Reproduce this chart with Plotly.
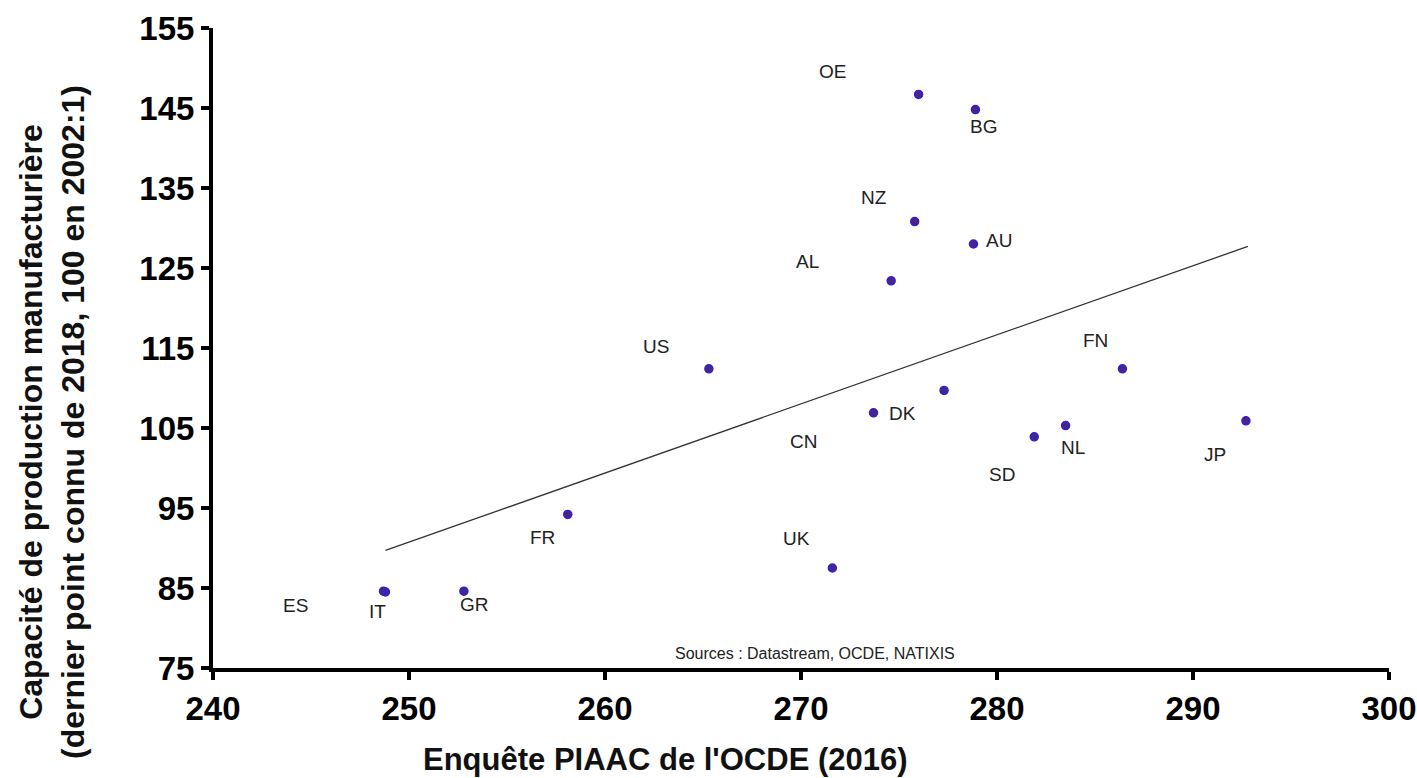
import plotly.graph_objects as go

# ---- data ----
countries = ["OE", "BG", "NZ", "AU", "AL", "US", "FN", "DK", "CN", "NL",
             "SD", "JP", "FR", "UK", "IT", "GR", "ES"]
piaac = [276.0, 278.9, 275.8, 278.8, 274.6, 265.3, 286.4, 277.3, 273.7, 283.5,
         281.9, 292.7, 258.1, 271.6, 248.8, 252.8, 248.7]
capacity = [146.7, 144.8, 130.8, 128.0, 123.4, 112.4, 112.4, 109.7, 106.9, 105.3,
            103.9, 105.9, 94.2, 87.5, 84.5, 84.6, 84.6]
trend_x = [248.8, 292.8]
trend_y = [89.7, 127.7]
x_ticks = [240, 250, 260, 270, 280, 290, 300]
y_ticks = [75, 85, 95, 105, 115, 125, 135, 145, 155]

# label pixel offsets (style)
label_dx = [-86, 8, -41, 26, -84, -53, -27, -42, -70, 7, -32, -31, -25, -36, -8, 11, -88]
label_dy = [-23, 17, -24, -4, -19, -22, -28, 23, 29, 22, 38, 34, 23, -30, 19, 13, 14]

FONT = "Liberation Sans, Arial, sans-serif"

W, H = 1417, 778
L, R, T, B = 213, 28, 28, 110
pw, ph = W - L - R, H - T - B


def px_x(px):
    return (px - L) / pw


def px_y(py):
    return (H - B - py) / ph


fig = go.Figure()
fig.add_trace(go.Scatter(
    x=trend_x, y=trend_y, mode="lines",
    line=dict(color="#333333", width=1.3), hoverinfo="skip", showlegend=False))
fig.add_trace(go.Scatter(
    x=piaac, y=capacity, mode="markers", text=countries,
    marker=dict(size=8, color="#4a2486", line=dict(color="#2f22d0", width=1.5)),
    showlegend=False))

for c, x, y, dx, dy in zip(countries, piaac, capacity, label_dx, label_dy):
    fig.add_annotation(x=x, y=y, xref="x", yref="y", text=c, showarrow=False,
                       xshift=dx, yshift=-dy,
                       font=dict(family=FONT, size=19, color="#222222"))

fig.add_annotation(x=px_x(815), y=px_y(653), xref="paper", yref="paper",
                   xanchor="center", yanchor="middle",
                   text="Sources : Datastream, OCDE, NATIXIS", showarrow=False,
                   font=dict(family=FONT, size=16, color="#222222"))

fig.add_annotation(x=px_x(665), y=px_y(759), xref="paper", yref="paper",
                   xanchor="center", yanchor="middle", showarrow=False,
                   text="<b>Enquête PIAAC de l'OCDE (2016)</b>",
                   font=dict(family=FONT, size=31, color="#111111"))
fig.add_annotation(x=px_x(52), y=px_y(422), xref="paper", yref="paper",
                   xanchor="center", yanchor="middle", showarrow=False,
                   textangle=-90,
                   text="<b>Capacité de production manufacturière<br>(dernier point connu de 2018, 100 en 2002:1)</b>",
                   font=dict(family=FONT, size=32, color="#111111"))

axis_common = dict(showgrid=False, zeroline=False, showline=True, linecolor="black",
                   linewidth=4, ticks="outside", ticklen=8, tickwidth=4,
                   tickcolor="black", automargin=False,
                   tickfont=dict(family=FONT, size=33, color="black", weight="bold"))
fig.update_xaxes(range=[240, 300], tickvals=x_ticks, **axis_common)
fig.update_yaxes(range=[75, 155], tickvals=y_ticks, **axis_common)

fig.update_layout(width=W, height=H, margin=dict(l=L, r=R, t=T, b=B, autoexpand=False),
                  plot_bgcolor="white", paper_bgcolor="white",
                  font=dict(family=FONT))

fig.write_html("out.html", config={"displayModeBar": False})

# remove default body margin so the figure sits at the window's top-left
with open("out.html", "r", encoding="utf-8") as f:
    html = f.read()
html = html.replace("<head>", "<head><style>html,body{margin:0;padding:0;overflow:hidden;}</style>", 1)
with open("out.html", "w", encoding="utf-8") as f:
    f.write(html)
